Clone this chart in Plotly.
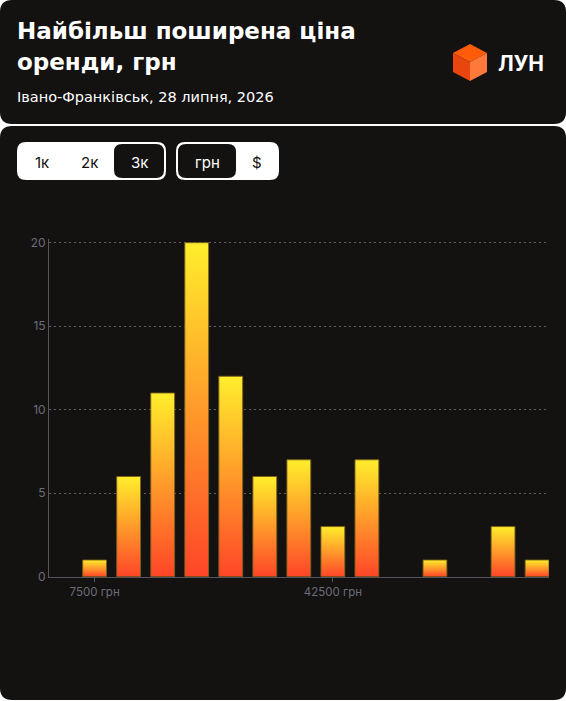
import plotly.graph_objects as go

# ---- data ----
bin_centers = [7500, 12500, 17500, 22500, 27500, 32500, 37500, 42500, 47500, 52500, 57500, 62500, 67500, 72500]
counts = [1, 6, 11, 20, 12, 6, 7, 3, 7, 0, 1, 0, 3, 1]
x_tick_vals = [7500, 42500]
x_tick_text = ["7500 грн", "42500 грн"]
y_tick_vals = [0, 5, 10, 15, 20]

W, H = 566, 701
BAR_W = 3500
Y_TOP = 20.2
CARD = "#131211"
GRAY = "#6c6c78"
FONT = "Inter"
TFONT = "DejaVu Sans"


def px(x):
    return x / W


def py(y):
    return 1 - y / H


def rrect(x0, y0, x1, y1, r):
    def P(x, y):
        return f"{px(x)},{py(y)}"
    return (f"M {P(x0 + r, y0)} L {P(x1 - r, y0)} Q {P(x1, y0)} {P(x1, y0 + r)} "
            f"L {P(x1, y1 - r)} Q {P(x1, y1)} {P(x1 - r, y1)} L {P(x0 + r, y1)} "
            f"Q {P(x0, y1)} {P(x0, y1 - r)} L {P(x0, y0 + r)} Q {P(x0, y0)} {P(x0 + r, y0)} Z")


def poly(points):
    return "M " + " L ".join(f"{px(x)},{py(y)}" for x, y in points) + " Z"


fig = go.Figure()

for c, v in zip(bin_centers, counts):
    if v <= 0:
        continue
    x0, x1 = c - BAR_W / 2, c + BAR_W / 2
    fig.add_trace(go.Scatter(
        x=[x0, x0, x1, x1, x0], y=[0, v, v, 0, 0],
        mode="lines", fill="toself",
        fillgradient=dict(type="vertical",
                          colorscale=[[0, "#ff4528"], [0.5, "#ff9a2a"], [1, "#ffee2c"]]),
        line=dict(color="rgba(120,95,25,0.9)", width=1),
        hoverinfo="skip", showlegend=False,
    ))

shapes = []
shapes.append(dict(type="path", path=rrect(0, 0, 566, 124, 12), xref="paper", yref="paper",
                   fillcolor=CARD, line=dict(width=0), layer="below"))
shapes.append(dict(type="path", path=rrect(0, 126, 566, 700, 12), xref="paper", yref="paper",
                   fillcolor=CARD, line=dict(width=0), layer="below"))
shapes.append(dict(type="path", path=rrect(17, 142, 166, 180, 9), xref="paper", yref="paper",
                   fillcolor="white", line=dict(width=0), layer="below"))
shapes.append(dict(type="path", path=rrect(114, 144, 164, 178, 8), xref="paper", yref="paper",
                   fillcolor=CARD, line=dict(width=0), layer="below"))
shapes.append(dict(type="path", path=rrect(176, 142, 279, 180, 9), xref="paper", yref="paper",
                   fillcolor="white", line=dict(width=0), layer="below"))
shapes.append(dict(type="path", path=rrect(178, 144, 236, 178, 8), xref="paper", yref="paper",
                   fillcolor=CARD, line=dict(width=0), layer="below"))
top, ur, lr, bot, ll, ul, ctr = (470, 44), (487, 53), (487, 72), (470, 81), (453, 72), (453, 53), (470, 62)
shapes.append(dict(type="path", path=poly([top, ur, ctr, ul]), xref="paper", yref="paper",
                   fillcolor="#ff5c0a", line=dict(width=0)))
shapes.append(dict(type="path", path=poly([ul, ctr, bot, ll]), xref="paper", yref="paper",
                   fillcolor="#e8450f", line=dict(width=0)))
shapes.append(dict(type="path", path=poly([ctr, ur, lr, bot]), xref="paper", yref="paper",
                   fillcolor="#ff7a3a", line=dict(width=0)))

annotations = []


def text(t, x, y, size, color="white", weight=400, xanchor="left", family=FONT):
    annotations.append(dict(text=t, x=px(x), y=py(y), xref="paper", yref="paper",
                            xanchor=xanchor, yanchor="middle", showarrow=False,
                            font=dict(family=family, size=size, color=color, weight=weight)))


text("Найбільш поширена ціна", 15, 31, 23, weight=700, family=TFONT)
text("оренди, грн", 15, 62, 23, weight=700, family=TFONT)
text("Івано-Франківськ, 28 липня, 2026", 15, 97, 14.5, family=TFONT)
text("ЛУН", 496, 63, 21, weight=700)
text("1к", 42, 162, 15, color="#111111", xanchor="center")
text("2к", 89, 162, 15, color="#111111", xanchor="center")
text("3к", 139, 162, 15, color="white", xanchor="center")
text("грн", 207, 162, 15, color="white", xanchor="center")
text("$", 257, 162, 15, color="#111111", xanchor="center")

unit_px = (576.7 - 242.7) / 20.0

fig.update_layout(
    width=W, height=H,
    margin=dict(l=0, r=0, t=0, b=0),
    paper_bgcolor="white",
    plot_bgcolor="rgba(0,0,0,0)",
    shapes=shapes,
    annotations=annotations,
    font=dict(family=FONT),
    xaxis=dict(
        domain=[px(49), px(549)], range=[800, 74250], automargin=False,
        tickvals=x_tick_vals, ticktext=x_tick_text,
        ticks="outside", ticklen=4, tickcolor="#55555f", tickwidth=1,
        tickfont=dict(size=11.5, color=GRAY, family=FONT),
        showline=True, linecolor="#55555f", linewidth=1,
        showgrid=False, zeroline=False, fixedrange=True,
    ),
    yaxis=dict(
        domain=[py(576.7), py(576.7 - Y_TOP * unit_px)], range=[0, Y_TOP], automargin=False,
        tickvals=y_tick_vals,
        tickfont=dict(size=12, color=GRAY, family=FONT),
        showline=True, linecolor="#55555f", linewidth=1,
        showgrid=True, gridcolor="#5e5e6a", griddash="2px,3px", gridwidth=1,
        zeroline=False, ticks="", fixedrange=True,
    ),
)

fig.write_html("out.html", config={"displayModeBar": False})
